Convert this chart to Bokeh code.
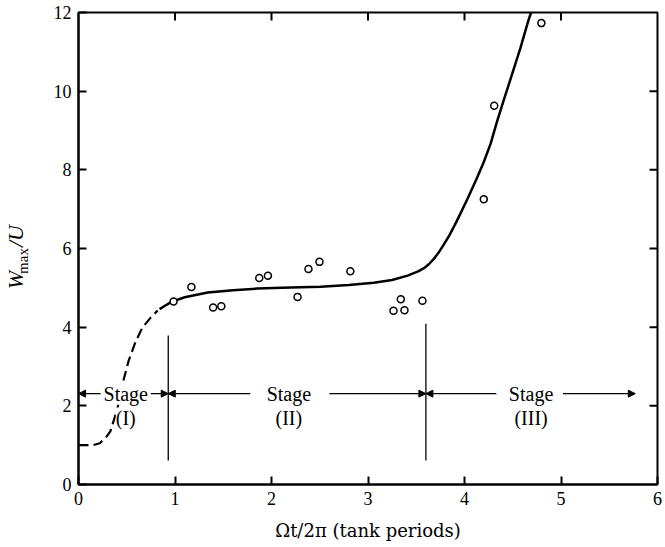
import math
from bokeh.plotting import figure
from bokeh.layouts import row
from bokeh.models import Label, Arrow, NormalHead, FixedTicker, Range1d
from bokeh.core.properties import value
from bokeh.embed import file_html
from bokeh.resources import INLINE

# Measured maximum vertical velocity (normalised) against time in tank periods
time_pts = [0.985, 1.17, 1.395, 1.48, 1.873, 1.963, 2.27, 2.383, 2.497, 2.817,
            3.264, 3.34, 3.378, 3.564, 4.20, 4.308, 4.797]
wmax_pts = [4.65, 5.02, 4.50, 4.53, 5.25, 5.31, 4.77, 5.48, 5.66, 5.42,
            4.42, 4.71, 4.43, 4.67, 7.25, 9.63, 11.73]

# Early (dashed) part of the trend curve
early_x = [0.0, 0.15, 0.22, 0.28, 0.33, 0.40, 0.47, 0.52, 0.59, 0.66, 0.75, 0.82]
early_y = [1.0, 1.0, 1.05, 1.18, 1.35, 1.9, 2.69, 3.15, 3.62, 3.98, 4.25, 4.42]

# Main (solid) part of the trend curve
trend_x = [0.84, 0.90, 0.97, 1.10, 1.34, 1.60, 1.85, 2.20, 2.51, 2.80, 3.06,
           3.25, 3.41, 3.52, 3.58, 3.63, 3.68, 3.73, 3.78, 3.84, 3.90, 3.96,
           4.03, 4.12, 4.20, 4.27, 4.34, 4.41, 4.48, 4.58, 4.66, 4.69]
trend_y = [4.46, 4.55, 4.65, 4.76, 4.88, 4.94, 4.98, 5.01, 5.03, 5.07, 5.13,
           5.20, 5.31, 5.42, 5.50, 5.60, 5.73, 5.89, 6.08, 6.32, 6.60, 6.90,
           7.26, 7.74, 8.20, 8.66, 9.25, 9.80, 10.33, 11.10, 11.78, 12.0]

# Stage boundaries (tank periods)
stage_bounds = [0.93, 3.60]
stage_names = ["(I)", "(II)", "(III)"]

x_ticks = [0, 1, 2, 3, 4, 5, 6]
y_ticks = [0, 2, 4, 6, 8, 10, 12]

SERIF = "Liberation Serif"
H = 547
STRIP_W = 40

p = figure(width=665 - STRIP_W, height=H, x_range=Range1d(0, 6),
           y_range=Range1d(0, 12), output_backend="svg", toolbar_location=None,
           min_border_left=78 - STRIP_W, min_border_right=8, min_border_top=12,
           min_border_bottom=63)
p.grid.visible = False
p.outline_line_color = "black"
p.outline_line_width = 2
p.background_fill_color = "white"
p.border_fill_color = "white"

p.xaxis.ticker = FixedTicker(ticks=x_ticks)
p.yaxis.ticker = FixedTicker(ticks=y_ticks)
for ax in list(p.xaxis) + list(p.yaxis):
    ax.major_tick_in = 8
    ax.major_tick_out = 0
    ax.minor_tick_in = 0
    ax.minor_tick_out = 0
    ax.axis_line_color = "black"
    ax.axis_line_width = 2
    ax.major_tick_line_width = 2
    ax.major_tick_line_color = "black"
    ax.major_label_text_font = SERIF
    ax.major_label_text_color = "black"
    ax.major_label_text_font_size = "18px"
    ax.major_label_standoff = 7

p.xaxis.axis_label = "\u03a9t/2\u03c0 (tank periods)"
p.xaxis.axis_label_text_font = "DejaVu Serif"
p.xaxis.axis_label_text_font_size = "18px"
p.xaxis.axis_label_text_font_style = "normal"
p.xaxis.axis_label_text_color = "black"
p.xaxis.axis_label_standoff = 12

# Inward ticks on the top and right edges of the frame
TICK_X = 8 / 96.8   # tick length in x units
TICK_Y = 8 / 39.1   # tick length in y units
top_t = x_ticks[1:-1]
right_t = y_ticks[1:-1]
p.segment(x0=top_t, y0=[y_ticks[-1]] * len(top_t), x1=top_t,
          y1=[y_ticks[-1] - TICK_Y] * len(top_t), line_color="black", line_width=2)
p.segment(x0=[x_ticks[-1]] * len(right_t), y0=right_t,
          x1=[x_ticks[-1] - TICK_X] * len(right_t), y1=right_t,
          line_color="black", line_width=2)

# Curve
p.line(early_x, early_y, line_color="black", line_width=2.2, line_dash="10 5")
p.line(trend_x, trend_y, line_color="black", line_width=2.5)

# Observations
p.scatter(time_pts, wmax_pts, marker="circle", size=7, fill_color="white",
          line_color="black", line_width=1.5)

# Stage dividers
p.segment(x0=stage_bounds, y0=[0.61, 0.61], x1=stage_bounds, y1=[3.79, 4.09],
          line_color="black", line_width=1.3)

# Stage arrows along y = 2.31
ARROW_Y = 2.31
arrow_spans = [(0.23, 0.0), (0.75, stage_bounds[0]),
               (1.78, stage_bounds[0]), (2.60, stage_bounds[1]),
               (4.33, stage_bounds[1]), (5.02, 5.77)]
for xs, xe in arrow_spans:
    p.add_layout(Arrow(x_start=xs, y_start=ARROW_Y, x_end=xe, y_end=ARROW_Y,
                       line_color="black", line_width=1.2,
                       end=NormalHead(size=7, fill_color="black",
                                      line_color="black", line_width=1)))

stage_centers = [0.49, 2.18, 4.69]
for cx, name in zip(stage_centers, stage_names):
    p.add_layout(Label(x=cx, y=ARROW_Y, text="Stage", text_font=SERIF,
                       text_font_size="20px", text_align="center",
                       text_baseline="middle", text_color="black",
                       background_fill_color="white"))
    p.add_layout(Label(x=cx, y=1.68, text=name, text_font=SERIF,
                       text_font_size="20px", text_align="center",
                       text_baseline="middle", text_color="black",
                       background_fill_color="white"))

# Narrow strip on the left carrying the rotated y title W_max/U
lab = figure(width=STRIP_W, height=H, x_range=Range1d(0, STRIP_W),
             y_range=Range1d(0, H), output_backend="svg",
             toolbar_location=None, min_border=0)
lab.axis.visible = False
lab.grid.visible = False
lab.outline_line_color = None
lab.border_fill_color = "white"
lab.background_fill_color = "white"
title_parts = [("W", 15, 237, "22px", "italic"),
               ("max", 22, 259, "15px", "normal"),
               ("/U", 15, 288, "22px", "italic")]
for txt, xx, yy, fs, st in title_parts:
    lab.text(x=[xx], y=[yy], text=[txt], angle=math.pi / 2,
             text_font=value(SERIF), text_font_size=fs, text_font_style=st,
             text_align="center", text_baseline="middle", text_color="black")

layout = row(lab, p, spacing=0)
open("out.html", "w").write(file_html(layout, INLINE))
